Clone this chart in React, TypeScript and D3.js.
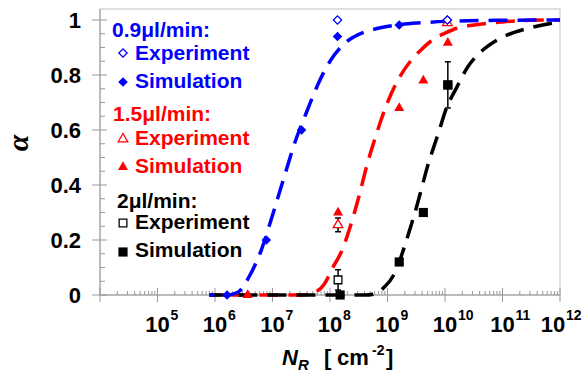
import React from "react";
import * as d3 from "d3";

// ---- data ----
const blueCurveN = [8e5, 1.6e6, 2.5e6, 4e6, 6.3e6, 1e7, 1.6e7, 2.5e7, 4e7, 6.3e7, 1e8, 1.8e8, 3.2e8, 6.3e8, 1.26e9, 4e9, 1e10, 1e11, 1e12];
const blueCurveA = [0, 0, 0.01, 0.07, 0.16, 0.29, 0.43, 0.56, 0.67, 0.77, 0.85, 0.915, 0.948, 0.968, 0.98, 0.99, 0.995, 0.999, 1];

const redCurveN = [8e5, 3.2e7, 5e7, 8e7, 1.12e8, 1.6e8, 2.24e8, 3.2e8, 4.5e8, 6.3e8, 1e9, 1.6e9, 2.5e9, 4e9, 6.3e9, 1e10, 1.6e10, 3.2e10, 1e11, 3.2e11, 1e12];
const redCurveA = [0, 0, 0.007, 0.04, 0.1, 0.16, 0.247, 0.36, 0.48, 0.58, 0.7, 0.79, 0.85, 0.895, 0.93, 0.952, 0.97, 0.982, 0.993, 0.999, 1];

const blackCurveN = [8e5, 4e8, 6.3e8, 8.9e8, 1.26e9, 1.6e9, 2e9, 2.5e9, 3.2e9, 4e9, 5e9, 6.3e9, 8e9, 1e10, 1.6e10, 2.5e10, 4e10, 8e10, 1.6e11, 3.2e11, 8e11, 1e12];
const blackCurveA = [0, 0, 0.005, 0.03, 0.07, 0.12, 0.18, 0.245, 0.32, 0.395, 0.47, 0.535, 0.6, 0.665, 0.755, 0.83, 0.88, 0.927, 0.955, 0.973, 0.99, 0.993];

const blueSimN = [1.62e6, 7.8e6, 3.2e7, 1.35e8, 1.6e9, 1.1e10];
const blueSimA = [0, 0.2, 0.6, 0.94, 0.982, 1.0];
const blueExpN = [1.35e8, 1.1e10];
const blueExpA = [1.0, 1.0];

const redSimN = [3.7e6, 1.38e8, 1.6e9, 4.2e9, 1.12e10];
const redSimA = [0, 0.3, 0.68, 0.78, 0.917];
const redExpN = [1.38e8, 1.1e10];
const redExpA = [0.255, 0.99];
const redExpErr = [0.025, 0];

const blackSimN = [1.5e8, 1.6e9, 4.2e9, 1.12e10];
const blackSimA = [0, 0.12, 0.3, 0.764];
const blackExpN = [1.38e8, 1.12e10];
const blackExpA = [0.055, 0.764];
const blackExpErr = [0.037, 0.084];

const xTickExps = [4, 5, 6, 7, 8, 9, 10, 11, 12];
const yTicks = [0, 0.2, 0.4, 0.6, 0.8, 1];
const yTickLabels = ["0", "0.2", "0.4", "0.6", "0.8", "1"];

const BLUE = "#0000ff";
const RED = "#ff0000";
const BLACK = "#000000";

const L = 100, R = 560, T = 9, B = 295;
const x = d3.scaleLog().domain([1e4, 1e12]).range([L, R]);
const y = d3.scaleLinear().domain([0, 1.04]).range([B, T]);

const FONT = "'Liberation Sans', Arial, sans-serif";

const line = d3
  .line<[number, number]>()
  .x((d) => x(d[0]))
  .y((d) => y(d[1]))
  .curve(d3.curveMonotoneX);

const zip = (a: number[], b: number[]) => a.map((v, i) => [v, b[i]] as [number, number]);

const diamondPath = d3.symbol(d3.symbolSquare, 46)()!;
const diamondSmall = d3.symbol(d3.symbolSquare, 34)()!;
const triPath = d3.symbol(d3.symbolTriangle, 44)()!;
const triSmall = d3.symbol(d3.symbolTriangle, 40)()!;
const sqPath = d3.symbol(d3.symbolSquare, 84)()!;
const sqSmall = d3.symbol(d3.symbolSquare, 60)()!;

type Kind = "diamond" | "tri" | "sq";
function Marker({ cx, cy, kind, color, hollow }: { cx: number; cy: number; kind: Kind; color: string; hollow?: boolean }) {
  let d = "";
  let rot = 0;
  if (kind === "diamond") { d = hollow ? diamondSmall : diamondPath; rot = 45; }
  if (kind === "tri") d = hollow ? triSmall : triPath;
  if (kind === "sq") d = hollow ? sqSmall : sqPath;
  return (
    <path
      d={d}
      transform={`translate(${cx},${cy}) rotate(${rot})`}
      fill={hollow ? "#fff" : color}
      stroke={color}
      strokeWidth={hollow ? 1.3 : 0}
    />
  );
}

function ErrBar({ n, a, e }: { n: number; a: number; e: number }) {
  if (!e) return null;
  const cx = x(n);
  const y1 = y(a + e), y2 = y(a - e);
  return (
    <g stroke="#000" strokeWidth={1.5}>
      <line x1={cx} x2={cx} y1={y1} y2={y2} />
      <line x1={cx - 3} x2={cx + 3} y1={y1} y2={y1} />
      <line x1={cx - 3} x2={cx + 3} y1={y2} y2={y2} />
    </g>
  );
}

export default function App() {
  const minorX: number[] = [];
  for (let e = 4; e < 12; e++) for (let k = 2; k <= 9; k++) minorX.push(k * Math.pow(10, e));
  const minorY: number[] = [];
  for (let i = 1; i <= 20; i++) if (i % 4 !== 0) minorY.push(i * 0.05);

  const legendItems = [
    { t: "0.9\u03bcl/min:", c: BLUE, x0: 112, yb: 37 },
    { t: "Experiment", c: BLUE, x0: 135, yb: 60, m: { kind: "diamond" as Kind, hollow: true, my: 53 } },
    { t: "Simulation", c: BLUE, x0: 135, yb: 88, m: { kind: "diamond" as Kind, hollow: false, my: 82 } },
    { t: "1.5\u03bcl/min:", c: RED, x0: 113, yb: 121 },
    { t: "Experiment", c: RED, x0: 135, yb: 145, m: { kind: "tri" as Kind, hollow: true, my: 139 } },
    { t: "Simulation", c: RED, x0: 135, yb: 173, m: { kind: "tri" as Kind, hollow: false, my: 167 } },
    { t: "2\u03bcl/min:", c: BLACK, x0: 117, yb: 208 },
    { t: "Experiment", c: BLACK, x0: 135, yb: 229, m: { kind: "sq" as Kind, hollow: true, my: 223 } },
    { t: "Simulation", c: BLACK, x0: 135, yb: 257, m: { kind: "sq" as Kind, hollow: false, my: 252 } },
  ];

  return (
    <svg width={584} height={376} style={{ position: "absolute", left: 0, top: 0, background: "#fff" }} fontFamily={FONT}>
      {/* frame */}
      <rect x={L} y={T} width={R - L} height={B - T} fill="none" stroke="#c0c0c0" strokeWidth={1} />
      <line x1={L} x2={L} y1={T} y2={B} stroke="#999" />
      <line x1={L} x2={R} y1={B} y2={B} stroke="#999" />

      {/* x ticks */}
      {minorX.map((v, i) => (
        <line key={"mx" + i} x1={x(v)} x2={x(v)} y1={B} y2={B - 4} stroke="#999" />
      ))}
      {xTickExps.map((e) => (
        <line key={"Mx" + e} x1={x(Math.pow(10, e))} x2={x(Math.pow(10, e))} y1={B - 7} y2={B + 7} stroke="#999" />
      ))}
      {xTickExps.filter((e) => e >= 5).map((e) => {
        const px = x(Math.pow(10, e));
        const cx = e === 12 ? px - 7 : px;
        return (
          <text key={"xl" + e} y={332} fontSize={22} fontWeight="bold" fill="#000">
            <tspan x={cx} textAnchor="middle">10</tspan>
            <tspan x={cx + 13} dy={-12} fontSize={14}>{e}</tspan>
          </text>
        );
      })}

      {/* y ticks */}
      {minorY.map((v, i) => (
        <line key={"my" + i} x1={L} x2={L + 5} y1={y(v)} y2={y(v)} stroke="#999" />
      ))}
      {yTicks.map((v, i) => (
        <g key={"yt" + i}>
          <line x1={L - 8} x2={L + 7} y1={y(v)} y2={y(v)} stroke="#999" />
          <text x={81} y={y(v) + 8} textAnchor="end" fontSize={22} fontWeight="bold">{yTickLabels[i]}</text>
        </g>
      ))}

      {/* axis titles */}
      <text y={365} fontSize={22} fontWeight="bold">
        <tspan x={282} fontStyle="italic">N</tspan>
        <tspan x={298} dy={5} fontSize={15} fontStyle="italic">R</tspan>
        <tspan x={324} dy={-5}>[</tspan>
        <tspan x={337}>cm</tspan>
        <tspan x={372} dy={-10} fontSize={14}>-2</tspan>
        <tspan x={386} dy={10}>]</tspan>
      </text>
      <text transform="translate(28,143) rotate(-90)" textAnchor="middle" fontSize={30} fontStyle="italic" fontWeight="bold" fontFamily="'Liberation Serif', serif">
        α
      </text>

      {/* curves */}
      <path d={line(zip(redCurveN, redCurveA))!} fill="none" stroke={RED} strokeWidth={3.5} strokeDasharray="19,10" strokeDashoffset={8} />
      <path d={line(zip(blackCurveN, blackCurveA))!} fill="none" stroke={BLACK} strokeWidth={3.5} strokeDasharray="19,10" />
      <path d={line(zip(blueCurveN, blueCurveA))!} fill="none" stroke={BLUE} strokeWidth={3.5} strokeDasharray="19,10" strokeDashoffset={14} />

      {/* error bars */}
      {blackExpN.map((n, i) => <ErrBar key={"be" + i} n={n} a={blackExpA[i]} e={blackExpErr[i]} />)}
      {redExpN.map((n, i) => <ErrBar key={"re" + i} n={n} a={redExpA[i]} e={redExpErr[i]} />)}

      {/* markers */}
      {blackExpN.map((n, i) => <Marker key={"bk" + i} cx={x(n)} cy={y(blackExpA[i])} kind="sq" color={BLACK} hollow />)}
      {blackSimN.map((n, i) => <Marker key={"bs" + i} cx={x(n)} cy={y(blackSimA[i])} kind="sq" color={BLACK} />)}
      {redSimN.map((n, i) => <Marker key={"rs" + i} cx={x(n)} cy={y(redSimA[i])} kind="tri" color={RED} />)}
      {redExpN.map((n, i) => <Marker key={"rx" + i} cx={x(n)} cy={y(redExpA[i])} kind="tri" color={RED} hollow />)}
      {blueSimN.map((n, i) => <Marker key={"us" + i} cx={x(n)} cy={y(blueSimA[i])} kind="diamond" color={BLUE} />)}
      {blueExpN.map((n, i) => <Marker key={"ux" + i} cx={x(n)} cy={y(blueExpA[i])} kind="diamond" color={BLUE} hollow />)}

      {/* legend */}
      {legendItems.map((it, i) => (
        <g key={"lg" + i}>
          {it.m && <Marker cx={123} cy={it.m.my} kind={it.m.kind} color={it.c} hollow={it.m.hollow} />}
          <text x={it.x0} y={it.yb} fontSize={21} fontWeight="bold" fill={it.c}>{it.t}</text>
        </g>
      ))}
    </svg>
  );
}
